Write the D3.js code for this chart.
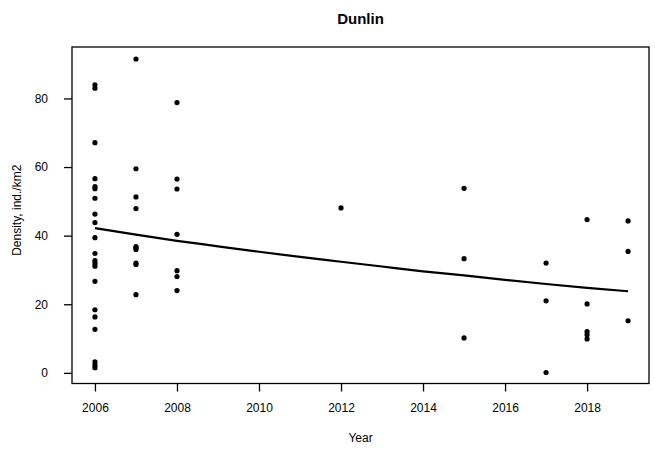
<!DOCTYPE html>
<html>
<head>
<meta charset="utf-8">
<script src="https://cdn.jsdelivr.net/npm/d3@7"></script>
<style>
  body { margin: 0; background: #fff; }
  text { font-family: "Liberation Sans", Arial, sans-serif; fill: #000; }
</style>
</head>
<body>
<svg id="chart" width="655" height="449"></svg>
<script>
// ---- data ----
const years = [
  2006,2006,2006,2006,2006,2006,2006,2006,2006,2006,2006,2006,2006,2006,2006,2006,2006,2006,2006,2006,2006,
  2007,2007,2007,2007,2007,2007,2007,2007,2007,2007,
  2008,2008,2008,2008,2008,2008,2008,
  2012,
  2015,2015,2015,
  2017,2017,2017,
  2018,2018,2018,2018,2018,
  2019,2019,2019
];
const density = [
  84.0,83.0,67.1,56.6,54.3,53.7,50.9,46.3,43.8,39.4,34.8,32.7,31.9,31.1,26.7,18.4,16.3,12.7,3.2,2.3,1.5,
  91.5,59.5,51.3,47.9,36.8,36.4,36.0,32.0,31.6,22.8,
  78.8,56.5,53.6,40.4,29.8,28.1,24.0,
  48.1,
  53.8,33.3,10.2,
  32.0,21.0,0.1,
  44.7,20.1,12.0,11.1,9.9,
  44.3,35.4,15.2
];
const trendYears = [2006,2007,2008,2009,2010,2011,2012,2013,2014,2015,2016,2017,2018,2019];
const trendValues = [42.2,40.3,38.5,36.9,35.3,33.8,32.4,31.0,29.6,28.4,27.1,25.9,24.8,23.8];
const xTicks = [2006,2008,2010,2012,2014,2016,2018];
const yTicks = [0,20,40,60,80];
const title = "Dunlin";
const xTitle = "Year";
const yTitle = "Density, ind./km2";

// ---- layout ----
const svg = d3.select("#chart");
const pL = 72, pR = 649, pT = 47, pB = 383.5;

const x = d3.scaleLinear().domain([2005.44, 2019.51]).range([pL, pR]);
const y = d3.scaleLinear().domain([-3.1, 95.0]).range([pB, pT]);

// box
svg.append("rect")
  .attr("x", pL).attr("y", pT)
  .attr("width", pR - pL).attr("height", pB - pT)
  .attr("fill", "none").attr("stroke", "#000").attr("stroke-width", 1.3);

// x axis
const xAxis = d3.axisBottom(x).tickValues(xTicks).tickFormat(d3.format("d")).tickSize(8).tickPadding(12);
const gx = svg.append("g").attr("transform", `translate(0,${pB})`).call(xAxis);
gx.select(".domain").remove();
gx.selectAll("line").attr("stroke", "#000").attr("stroke-width", 1.3);
gx.selectAll("text").style("font-size", "12px").style("font-family", "Liberation Sans, Arial, sans-serif").attr("fill", "#000");

// y axis
const yAxis = d3.axisLeft(y).tickValues(yTicks).tickSize(8).tickPadding(16);
const gy = svg.append("g").attr("transform", `translate(${pL},0)`).call(yAxis);
gy.select(".domain").remove();
gy.selectAll("line").attr("stroke", "#000").attr("stroke-width", 1.3);
gy.selectAll("text").style("font-size", "12px").style("font-family", "Liberation Sans, Arial, sans-serif").attr("fill", "#000");

// trend line
const line = d3.line().x((d, i) => x(trendYears[i])).y(d => y(d)).curve(d3.curveMonotoneX);
svg.append("path").datum(trendValues)
  .attr("d", line).attr("fill", "none").attr("stroke", "#000").attr("stroke-width", 2.2);

// points
svg.append("g").selectAll("circle")
  .data(density)
  .join("circle")
  .attr("cx", (d, i) => x(years[i]))
  .attr("cy", d => y(d))
  .attr("r", 2.6)
  .attr("fill", "#000");

// titles
svg.append("text").attr("x", (pL + pR) / 2).attr("y", 24)
  .attr("text-anchor", "middle").style("font-size", "15px").style("font-weight", "bold").text(title);
svg.append("text").attr("x", (pL + pR) / 2).attr("y", 442)
  .attr("text-anchor", "middle").style("font-size", "12px").text(xTitle);
svg.append("text").attr("transform", `translate(20.5,${(pT + pB) / 2 - 5}) rotate(-90)`)
  .attr("text-anchor", "middle").style("font-size", "12px").text(yTitle);
</script>
</body>
</html>
